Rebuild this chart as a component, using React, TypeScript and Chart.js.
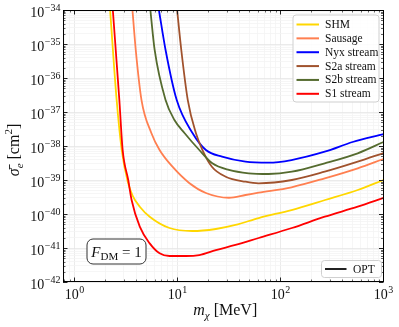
import React, { useEffect, useRef } from 'react';
import { Chart, registerables } from 'chart.js';

Chart.register(...registerables);

// ---- data ----
const shmMass = [2.22, 2.57, 2.88, 3.30, 3.69, 4.31, 5.38, 8.38, 13.9, 23.6, 36.6, 61.4, 128, 271, 562, 1000];
const shmSigma = [1e-34, 2.25e-37, 7.62e-39, 8.7e-40, 3.38e-40, 1.64e-40, 8.34e-41, 3.87e-41, 3.16e-41, 3.62e-41, 4.75e-41, 7.62e-41, 1.31e-40, 2.58e-40, 5.08e-40, 1.0e-39];

const sausageMass = [3.66, 3.94, 4.48, 5.58, 6.71, 8.95, 13.0, 18.9, 31.6, 45.8, 61.4, 128, 269, 562, 1000];
const sausageSigma = [1e-34, 6.67e-36, 2.25e-37, 2.41e-38, 7.62e-39, 2.46e-39, 8.2e-40, 4.15e-40, 3.01e-40, 3.62e-40, 4.23e-40, 6.1e-40, 1.12e-39, 2.21e-39, 4.15e-39];

const nyxMass = [6.61, 7.67, 9.84, 14.0, 18.9, 27.1, 45.8, 76.7, 128, 269, 501, 1000];
const nyxSigma = [1e-34, 6.67e-36, 2.25e-37, 2.41e-38, 7.62e-39, 4.84e-39, 3.45e-39, 3.23e-39, 3.87e-39, 6.79e-39, 1.31e-38, 2.25e-38];

const s2aMass = [9.93, 10.9, 12.6, 15.1, 17.5, 21.6, 29.4, 45.8, 61.4, 129, 269, 562, 1000];
const s2aSigma = [1e-34, 6.67e-36, 2.25e-37, 2.41e-38, 7.62e-39, 2.46e-39, 1.25e-39, 8.9e-40, 8.0e-40, 1.0e-39, 1.75e-39, 3.45e-39, 6.2e-39];

const s2bMass = [5.46, 6.01, 7.67, 9.35, 11.7, 16.3, 21.8, 31.6, 49.2, 76.7, 129, 269, 562, 1000];
const s2bSigma = [1e-34, 6.67e-36, 2.25e-37, 5.82e-38, 2.41e-38, 7.62e-39, 3.10e-39, 1.97e-39, 1.57e-39, 1.50e-39, 1.75e-39, 3.10e-39, 6.1e-39, 1.31e-38];

const s1Mass = [2.36, 2.73, 2.94, 3.33, 3.59, 4.31, 5.38, 6.71, 8.38, 12.1, 16.3, 23.6, 36.6, 61.4, 129, 269, 562, 1000];
const s1Sigma = [1e-34, 2.25e-37, 7.62e-39, 1.0e-39, 2.58e-40, 4.23e-41, 1.37e-41, 6.98e-42, 5.82e-42, 5.82e-42, 6.22e-42, 8.7e-42, 1.23e-41, 1.97e-41, 3.87e-41, 8.34e-41, 1.64e-40, 2.96e-40];

const seriesLabels = ['SHM', 'Sausage', 'Nyx stream', 'S2a stream', 'S2b stream', 'S1 stream'];
const seriesColors = ['#FFD700', '#FF7F50', '#0000FF', '#A0522D', '#556B2F', '#FF0000'];
const seriesMass = [shmMass, sausageMass, nyxMass, s2aMass, s2bMass, s1Mass];
const seriesSigma = [shmSigma, sausageSigma, nyxSigma, s2aSigma, s2bSigma, s1Sigma];

const xMin = 0.775;
const xMax = 1000;
const yMin = 1e-42;
const yMax = 1e-34;
const xTickDecades = [1, 10, 100, 1000];
const yTickDecades = [1e-42, 1e-41, 1e-40, 1e-39, 1e-38, 1e-37, 1e-36, 1e-35, 1e-34];
const tickBase = '10';

// axis titles, in pieces: [text, style] with style 'i' italic, 'r' roman, 'sub', 'isub', 'sup'
const xTitleParts: [string, string][] = [['m', 'i'], ['χ', 'isub'], [' [MeV]', 'r']];
const yTitleParts: [string, string][] = [['σ̄', 'i'], ['e', 'isub'], [' [cm', 'r'], ['2', 'sup'], [']', 'r']];
const boxParts: [string, string][] = [['F', 'i'], ['DM', 'sub'], [' = 1', 'r']];
const optLabel = 'OPT';

const SERIF = '"Liberation Serif", "DejaVu Serif", serif';

function isDecade(v: number) {
  const l = Math.log10(v);
  return Math.abs(l - Math.round(l)) < 1e-6;
}
function exponentText(v: number) {
  const e = Math.round(Math.log10(v));
  return e < 0 ? '−' + String(-e) : String(e);
}
function logTicks(min: number, max: number) {
  const out: number[] = [];
  const lo = Math.floor(Math.log10(min));
  const hi = Math.ceil(Math.log10(max));
  for (let e = lo; e <= hi; e++) {
    for (let k = 1; k <= 9; k++) {
      const v = parseFloat((k * Math.pow(10, e)).toPrecision(6));
      if (v >= min * 0.9999 && v <= max * 1.0001) out.push(v);
    }
  }
  return out;
}

function partFont(style: string, size: number) {
  const small = Math.round(size * 0.7);
  if (style === 'i') return `italic ${size}px ${SERIF}`;
  if (style === 'isub') return `italic ${small}px ${SERIF}`;
  if (style === 'sub' || style === 'sup') return `${small}px ${SERIF}`;
  return `${size}px ${SERIF}`;
}
function partShift(style: string, size: number) {
  if (style === 'isub' || style === 'sub') return size * 0.25;
  if (style === 'sup') return -size * 0.38;
  return 0;
}
function measureParts(ctx: CanvasRenderingContext2D, parts: [string, string][], size: number) {
  let w = 0;
  parts.forEach(([t, s]) => { ctx.font = partFont(s, size); w += ctx.measureText(t).width; });
  return w;
}
// draws parts starting at x (alphabetic baseline y)
function drawParts(ctx: CanvasRenderingContext2D, parts: [string, string][], size: number, x: number, y: number) {
  let cx = x;
  parts.forEach(([t, s]) => {
    ctx.font = partFont(s, size);
    ctx.fillText(t, cx, y + partShift(s, size));
    cx += ctx.measureText(t).width;
  });
}

const decorPlugin = {
  id: 'decor',
  afterDraw(chart: any) {
    const { ctx, chartArea: a, scales } = chart;
    ctx.save();
    // inward ticks on all sides
    ctx.strokeStyle = '#222';
    logTicks(xMin, xMax).forEach((v) => {
      const px = Math.round(scales.x.getPixelForValue(v)) + 0.5;
      if (px < a.left || px > a.right) return;
      const len = isDecade(v) ? 4.5 : 2.5;
      ctx.lineWidth = isDecade(v) ? 1 : 0.7;
      ctx.beginPath();
      ctx.moveTo(px, a.bottom); ctx.lineTo(px, a.bottom - len);
      ctx.moveTo(px, a.top); ctx.lineTo(px, a.top + len);
      ctx.stroke();
    });
    logTicks(yMin, yMax).forEach((v) => {
      const py = Math.round(scales.y.getPixelForValue(v)) + 0.5;
      const len = isDecade(v) ? 4.5 : 2.5;
      ctx.lineWidth = isDecade(v) ? 1 : 0.7;
      ctx.beginPath();
      ctx.moveTo(a.left, py); ctx.lineTo(a.left + len, py);
      ctx.moveTo(a.right, py); ctx.lineTo(a.right - len, py);
      ctx.stroke();
    });
    // frame
    ctx.lineWidth = 1;
    ctx.strokeStyle = '#000';
    ctx.strokeRect(Math.round(a.left) + 0.5, Math.round(a.top) + 0.5,
      Math.round(a.right - a.left) - 1, Math.round(a.bottom - a.top) - 1);

    // tick labels: 10 with raised exponent
    ctx.fillStyle = '#111';
    ctx.textBaseline = 'alphabetic';
    ctx.textAlign = 'left';
    const baseSize = 14, expSize = 10;
    yTickDecades.forEach((v) => {
      const py = scales.y.getPixelForValue(v);
      const ex = exponentText(v);
      ctx.font = `${expSize}px ${SERIF}`;
      const ew = ctx.measureText(ex).width;
      ctx.font = `${baseSize}px ${SERIF}`;
      const bw = ctx.measureText(tickBase).width;
      const right = a.left - 2.5;
      ctx.fillText(tickBase, right - ew - bw - 0.5, py + 7);
      ctx.font = `${expSize}px ${SERIF}`;
      ctx.fillText(ex, right - ew, py + 0.5);
    });
    xTickDecades.forEach((v) => {
      const px = scales.x.getPixelForValue(v);
      const ex = exponentText(v);
      ctx.font = `${expSize}px ${SERIF}`;
      const ew = ctx.measureText(ex).width;
      ctx.font = `${baseSize}px ${SERIF}`;
      const bw = ctx.measureText(tickBase).width;
      const left = px - (bw + ew + 0.5) / 2;
      ctx.fillText(tickBase, left, a.bottom + 17);
      ctx.font = `${expSize}px ${SERIF}`;
      ctx.fillText(ex, left + bw + 0.5, a.bottom + 11);
    });

    // axis titles
    const tSize = 16;
    const xw = measureParts(ctx, xTitleParts, tSize);
    drawParts(ctx, xTitleParts, tSize, (a.left + a.right) / 2 + 2 - xw / 2, a.bottom + 33);
    ctx.save();
    ctx.translate(18.5, (a.top + a.bottom) / 2 + 4);
    ctx.rotate(-Math.PI / 2);
    const yw = measureParts(ctx, yTitleParts, tSize);
    drawParts(ctx, yTitleParts, tSize, -yw / 2, 0);
    ctx.restore();

    // legend (top-right)
    const lw = 86, lh = 87;
    const lx = a.right - 4.5 - lw, ly = a.top + 5;
    ctx.beginPath();
    ctx.roundRect(lx, ly, lw, lh, 3);
    ctx.fillStyle = 'rgba(255,255,255,0.85)';
    ctx.fill();
    ctx.strokeStyle = '#d0d0d0';
    ctx.lineWidth = 1;
    ctx.stroke();
    ctx.font = `11.5px ${SERIF}`;
    ctx.textBaseline = 'middle';
    ctx.textAlign = 'left';
    chart.data.datasets.forEach((ds: any, i: number) => {
      const ry = ly + 9.5 + i * 13.86;
      ctx.strokeStyle = ds.borderColor;
      ctx.lineWidth = 2;
      ctx.beginPath();
      ctx.moveTo(lx + 3.5, ry); ctx.lineTo(lx + 26, ry);
      ctx.stroke();
      ctx.fillStyle = '#111';
      ctx.fillText(ds.label, lx + 32, ry + 0.5);
    });

    // OPT legend (bottom-right)
    const ow = 60, oh = 17;
    const ox = a.right - 2 - ow, oy = a.bottom - 4.5 - oh;
    ctx.beginPath();
    ctx.roundRect(ox, oy, ow, oh, 3);
    ctx.fillStyle = 'rgba(255,255,255,0.85)';
    ctx.fill();
    ctx.strokeStyle = '#d0d0d0';
    ctx.lineWidth = 1;
    ctx.stroke();
    ctx.strokeStyle = '#222';
    ctx.lineWidth = 2;
    ctx.beginPath();
    ctx.moveTo(ox + 3.5, oy + oh / 2); ctx.lineTo(ox + 25, oy + oh / 2);
    ctx.stroke();
    ctx.fillStyle = '#111';
    ctx.font = `11.5px ${SERIF}`;
    ctx.fillText(optLabel, ox + 31.5, oy + oh / 2 + 0.5);

    // F_DM = 1 box (bottom-left)
    const bx = a.left + 24, by = a.bottom - 43, bw2 = 59, bh = 25;
    ctx.beginPath();
    ctx.roundRect(bx, by, bw2, bh, 6);
    ctx.fillStyle = '#fff';
    ctx.fill();
    ctx.strokeStyle = '#333';
    ctx.lineWidth = 1;
    ctx.stroke();
    ctx.fillStyle = '#111';
    ctx.textBaseline = 'alphabetic';
    const boxSize = 15;
    const tw = measureParts(ctx, boxParts, boxSize);
    drawParts(ctx, boxParts, boxSize, bx + bw2 / 2 - tw / 2, by + bh / 2 + 5);
    ctx.restore();
  },
};

export default function App() {
  const ref = useRef<HTMLCanvasElement | null>(null);
  useEffect(() => {
    if (!ref.current) return;
    const datasets = seriesLabels.map((label, i) => ({
      label,
      data: seriesMass[i].map((m, j) => ({ x: m, y: seriesSigma[i][j] })),
      borderColor: seriesColors[i],
      backgroundColor: seriesColors[i],
      borderWidth: 1.8,
      pointRadius: 0,
      fill: false,
      cubicInterpolationMode: 'monotone' as const,
      order: seriesLabels.length - i,
    }));
    const gridColor = (ctx: any) => {
      const v = ctx.tick ? ctx.tick.value : 1;
      return isDecade(v) ? '#e6e6e6' : '#f4f4f4';
    };
    const chart = new Chart(ref.current, {
      type: 'line',
      data: { datasets },
      plugins: [decorPlugin],
      options: {
        animation: false,
        responsive: false,
        devicePixelRatio: 1,
        layout: { padding: { left: 0, right: 15.5, top: 10, bottom: 0 } },
        plugins: { legend: { display: false }, tooltip: { enabled: false } },
        scales: {
          x: {
            type: 'logarithmic',
            min: xMin,
            max: xMax,
            afterBuildTicks: (s: any) => { s.ticks = logTicks(xMin, xMax).map((v) => ({ value: v })); },
            afterFit: (s: any) => { s.height = 45; },
            grid: { color: gridColor, drawTicks: false, lineWidth: 0.8 },
            border: { display: false },
            ticks: { display: false },
          },
          y: {
            type: 'logarithmic',
            min: yMin,
            max: yMax,
            afterBuildTicks: (s: any) => { s.ticks = logTicks(yMin, yMax).map((v) => ({ value: v })); },
            afterFit: (s: any) => { s.width = 63; },
            grid: { color: gridColor, drawTicks: false, lineWidth: 0.8 },
            border: { display: false },
            ticks: { display: false },
          },
        },
      },
    });
    return () => chart.destroy();
  }, []);
  return (
    <div style={{ position: 'absolute', left: 0, top: 0, width: 399, height: 327, background: '#fff' }}>
      <canvas ref={ref} width={399} height={327} style={{ display: 'block', width: 399, height: 327 }} />
    </div>
  );
}
